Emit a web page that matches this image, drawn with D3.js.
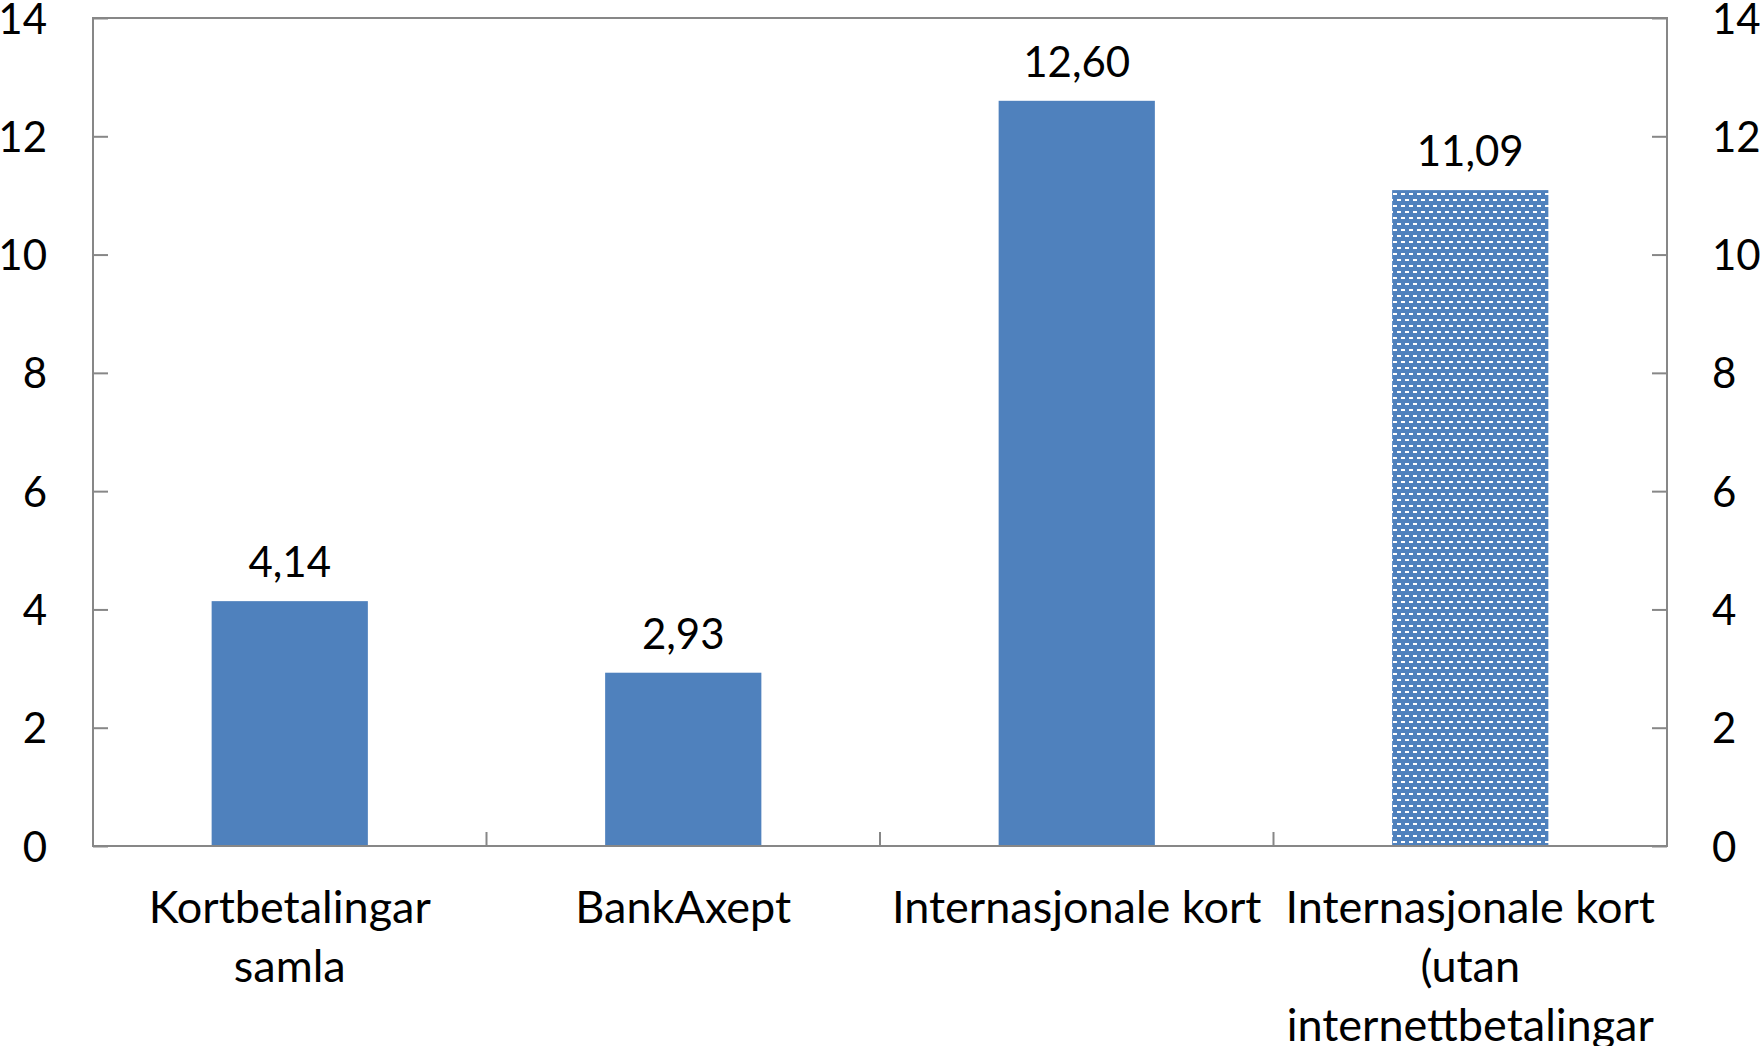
<!DOCTYPE html>
<html>
<head>
<meta charset="utf-8">
<script src="https://cdn.jsdelivr.net/npm/d3@7"></script>
<style>
  html, body { margin: 0; padding: 0; background: #fff; }
  svg { display: block; }
  text { font-family: Lato, "Open Sans", sans-serif; fill: #000; }
</style>
</head>
<body>
<svg id="chart" width="1760" height="1046"></svg>
<script>
const categories = ["Kortbetalingar\nsamla", "BankAxept", "Internasjonale kort", "Internasjonale kort\n(utan\ninternettbetalingar"];
const values = [4.14, 2.93, 12.60, 11.09];
const valueLabels = ["4,14", "2,93", "12,60", "11,09"];
const patterned = [false, false, false, true];
const yTicks = [0, 2, 4, 6, 8, 10, 12, 14];

const W = 1760, H = 1046;
const margin = { left: 93, right: 93, top: 18, bottom: 200 };
const svg = d3.select("#chart");
const plotW = W - margin.left - margin.right;
const plotH = H - margin.top - margin.bottom;
const g = svg.append("g").attr("transform", `translate(${margin.left},${margin.top})`);

const x = d3.scaleBand().domain(categories).range([0, plotW]).paddingInner(0.603).paddingOuter(0.3015);
const y = d3.scaleLinear().domain([0, 14]).range([plotH, 0]);

const blue = "#4F81BD";
const axisColor = "#878787";
const fontSize = 42;
const catFontSize = 45;

// pattern
const defs = svg.append("defs");
const pat = defs.append("pattern").attr("id", "dashpat").attr("patternUnits", "userSpaceOnUse")
  .attr("width", 8).attr("height", 12);
pat.append("rect").attr("width", 8).attr("height", 12).attr("fill", blue);
pat.append("rect").attr("x", 0).attr("y", 1).attr("width", 4).attr("height", 2).attr("fill", "#fff");
pat.append("rect").attr("x", 4).attr("y", 7).attr("width", 4).attr("height", 2).attr("fill", "#fff");

// bars
g.selectAll("rect.bar").data(categories).join("rect")
  .attr("class", "bar")
  .attr("x", d => x(d))
  .attr("width", x.bandwidth())
  .attr("y", (d, i) => y(values[i]))
  .attr("height", (d, i) => y(0) - y(values[i]))
  .attr("fill", (d, i) => patterned[i] ? "url(#dashpat)" : blue);

// value labels
g.selectAll("text.val").data(categories).join("text")
  .attr("class", "val")
  .attr("x", d => x(d) + x.bandwidth() / 2)
  .attr("y", (d, i) => y(values[i]) - 24)
  .attr("text-anchor", "middle")
  .style("font-size", fontSize + "px")
  .text((d, i) => valueLabels[i]);

// frame
g.append("rect").attr("x", 0).attr("y", 0).attr("width", plotW).attr("height", plotH)
  .attr("fill", "none").attr("stroke", axisColor).attr("stroke-width", 2);

// left axis
const yl = d3.axisLeft(y).tickValues(yTicks).tickSize(-15).tickFormat(d3.format("d"));
const gl = g.append("g").call(yl);
gl.select(".domain").remove();
gl.selectAll(".tick line").attr("stroke", axisColor).attr("stroke-width", 2);
gl.selectAll(".tick text").style("font-size", fontSize + "px").attr("fill", "#000")
  .attr("x", -46).attr("dy", "0.36em");

// right axis
const yr = d3.axisRight(y).tickValues(yTicks).tickSize(-15).tickFormat(d3.format("d"));
const gr = g.append("g").attr("transform", `translate(${plotW},0)`).call(yr);
gr.select(".domain").remove();
gr.selectAll(".tick line").attr("stroke", axisColor).attr("stroke-width", 2);
gr.selectAll(".tick text").style("font-size", fontSize + "px").attr("fill", "#000")
  .attr("x", 45).attr("dy", "0.36em");

// bottom axis: category separator ticks
const bounds = categories.slice(1).map(c => x(c) - x.step() * x.paddingInner() / 2);
g.selectAll("line.sep").data(bounds).join("line")
  .attr("class", "sep")
  .attr("x1", d => d).attr("x2", d => d)
  .attr("y1", plotH).attr("y2", plotH - 14)
  .attr("stroke", axisColor).attr("stroke-width", 2);

// category labels
const lineH = 59;
const cl = g.selectAll("text.cat").data(categories).join("text")
  .attr("class", "cat")
  .attr("text-anchor", "middle")
  .attr("x", d => x(d) + x.bandwidth() / 2)
  .attr("y", plotH + 77)
  .style("font-size", catFontSize + "px");
cl.each(function(d) {
  const t = d3.select(this);
  d.split("\n").forEach((line, k) => {
    t.append("tspan").attr("x", x(d) + x.bandwidth() / 2).attr("y", plotH + 77 + k * lineH).text(line);
  });
});
</script>
</body>
</html>
